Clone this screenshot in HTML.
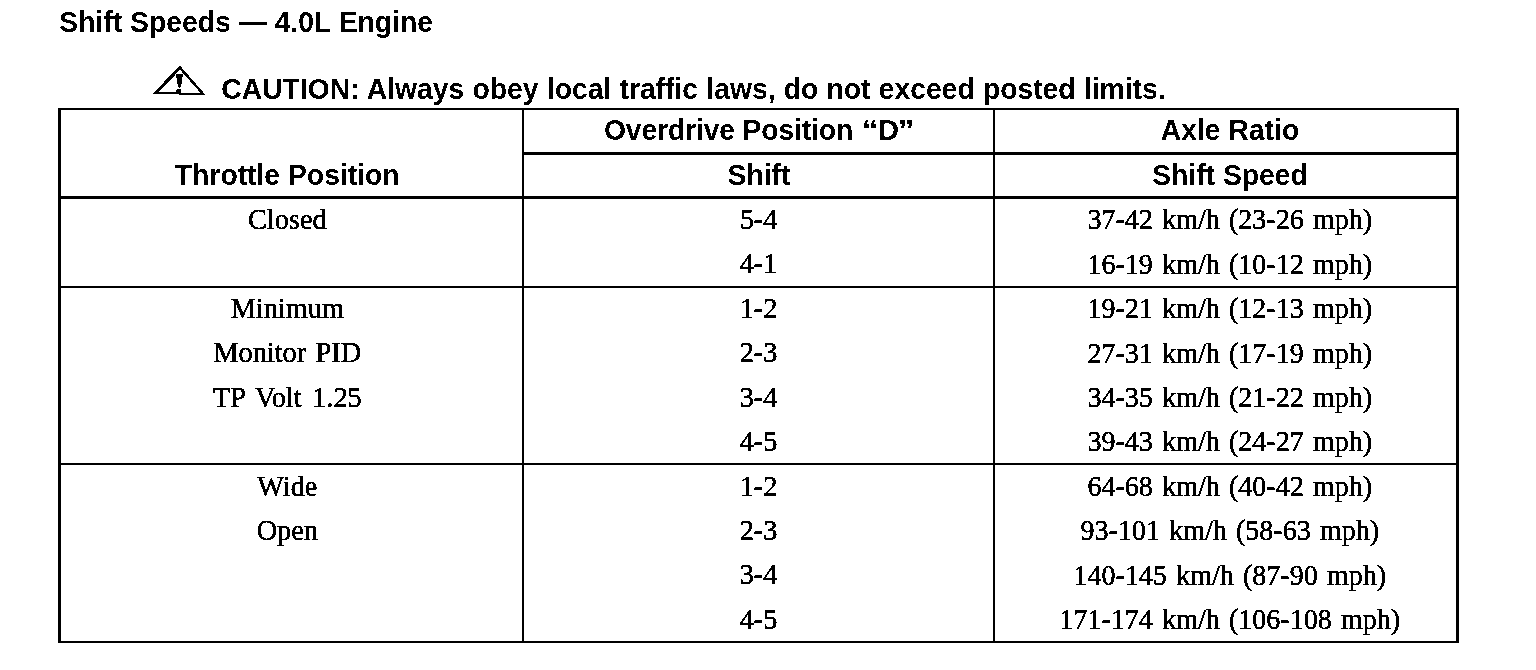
<!DOCTYPE html>
<html><head><meta charset="utf-8"><title>Shift Speeds — 4.0L Engine</title>
<style>
html,body{margin:0;padding:0;background:#fff;}
body{width:1536px;height:670px;position:relative;overflow:hidden;color:#000;}
.t{position:absolute;white-space:nowrap;}
.s{font-family:"Liberation Sans", Arial, Helvetica, sans-serif;font-weight:bold;font-size:28.3px;line-height:28.3px;}
.r{font-family:"Liberation Serif", "Times New Roman", Times, serif;font-weight:normal;font-size:28.3px;line-height:28.3px;-webkit-text-stroke:0.4px #000;}
.c{width:800px;text-align:center;}
.l{position:absolute;background:#000;}
#wrap{position:absolute;left:0;top:0;width:1536px;height:670px;background:#fff;filter:url(#bin);}
</style></head><body>
<svg width="0" height="0" style="position:absolute"><filter id="bin" color-interpolation-filters="sRGB"><feColorMatrix type="saturate" values="0"/><feComponentTransfer><feFuncR type="discrete" tableValues="0 1"/><feFuncG type="discrete" tableValues="0 1"/><feFuncB type="discrete" tableValues="0 1"/></feComponentTransfer></filter></svg>
<div id="wrap">

<div class="l" style="left:58px;top:108px;width:1401px;height:2px"></div>
<div class="l" style="left:522px;top:152px;width:937px;height:3px"></div>
<div class="l" style="left:58px;top:196px;width:1401px;height:3px"></div>
<div class="l" style="left:58px;top:286px;width:1401px;height:2px"></div>
<div class="l" style="left:58px;top:463px;width:1401px;height:2px"></div>
<div class="l" style="left:58px;top:641px;width:1401px;height:2px"></div>
<div class="l" style="left:58px;top:108px;width:3px;height:535px"></div>
<div class="l" style="left:522px;top:108px;width:2px;height:535px"></div>
<div class="l" style="left:993px;top:108px;width:2px;height:535px"></div>
<div class="l" style="left:1456px;top:108px;width:3px;height:535px"></div>
<div class="t s" style="left:59.30px;top:8.04px;transform:scaleY(1.02);transform-origin:0 23.96px;">Shift Speeds — 4.0L Engine</div>
<div class="t s" style="left:221.30px;top:75.04px;transform:scaleY(1.02);transform-origin:0 23.96px;word-spacing:0.35px;">CAUTION: Always obey local traffic laws, do not exceed posted limits.</div>
<div class="t s c" style="left:358.60px;top:116.04px;transform:scaleY(1.02);transform-origin:0 23.96px;"><span style="letter-spacing:-0.13px;margin-right:2.3px">Overdrive Position</span> <span style="display:inline-block;transform:scaleX(1.18);margin-right:1px">“</span>D<span style="display:inline-block;transform:scaleX(1.18);margin-left:0.2px">”</span></div>
<div class="t s c" style="left:830.00px;top:116.04px;transform:scaleY(1.02);transform-origin:0 23.96px;">Axle Ratio</div>
<div class="t s c" style="left:-112.80px;top:161.04px;transform:scaleY(1.02);transform-origin:0 23.96px;">Throttle Position</div>
<div class="t s c" style="left:359.00px;top:161.04px;transform:scaleY(1.02);transform-origin:0 23.96px;">Shift</div>
<div class="t s c" style="left:830.00px;top:161.04px;transform:scaleY(1.02);transform-origin:0 23.96px;">Shift Speed</div>
<div class="t r c" style="left:-112.70px;top:206.00px;transform:scaleY(1.03);transform-origin:0 23.70px;word-spacing:2.3px;">Closed</div>
<div class="t r c" style="left:358.50px;top:206.00px;transform:scaleY(1.03);transform-origin:0 23.70px;">5-4</div>
<div class="t r c" style="left:829.80px;top:206.25px;transform:scaleY(1.03);transform-origin:0 23.45px;word-spacing:2.3px;font-size:28.0px;line-height:28.0px;">37-42 km/h (23-26 mph)</div>
<div class="t r c" style="left:358.50px;top:250.43px;transform:scaleY(1.03);transform-origin:0 23.70px;">4-1</div>
<div class="t r c" style="left:829.80px;top:250.68px;transform:scaleY(1.03);transform-origin:0 23.45px;word-spacing:2.3px;font-size:28.0px;line-height:28.0px;">16-19 km/h (10-12 mph)</div>
<div class="t r c" style="left:-112.70px;top:294.86px;transform:scaleY(1.03);transform-origin:0 23.70px;word-spacing:2.3px;">Minimum</div>
<div class="t r c" style="left:358.50px;top:294.86px;transform:scaleY(1.03);transform-origin:0 23.70px;">1-2</div>
<div class="t r c" style="left:829.80px;top:295.11px;transform:scaleY(1.03);transform-origin:0 23.45px;word-spacing:2.3px;font-size:28.0px;line-height:28.0px;">19-21 km/h (12-13 mph)</div>
<div class="t r c" style="left:-112.70px;top:339.29px;transform:scaleY(1.03);transform-origin:0 23.70px;word-spacing:2.3px;">Monitor PID</div>
<div class="t r c" style="left:358.50px;top:339.29px;transform:scaleY(1.03);transform-origin:0 23.70px;">2-3</div>
<div class="t r c" style="left:829.80px;top:339.54px;transform:scaleY(1.03);transform-origin:0 23.45px;word-spacing:2.3px;font-size:28.0px;line-height:28.0px;">27-31 km/h (17-19 mph)</div>
<div class="t r c" style="left:-112.70px;top:383.72px;transform:scaleY(1.03);transform-origin:0 23.70px;word-spacing:3.5px;">TP Volt 1.25</div>
<div class="t r c" style="left:358.50px;top:383.72px;transform:scaleY(1.03);transform-origin:0 23.70px;">3-4</div>
<div class="t r c" style="left:829.80px;top:383.97px;transform:scaleY(1.03);transform-origin:0 23.45px;word-spacing:2.3px;font-size:28.0px;line-height:28.0px;">34-35 km/h (21-22 mph)</div>
<div class="t r c" style="left:358.50px;top:428.15px;transform:scaleY(1.03);transform-origin:0 23.70px;">4-5</div>
<div class="t r c" style="left:829.80px;top:428.40px;transform:scaleY(1.03);transform-origin:0 23.45px;word-spacing:2.3px;font-size:28.0px;line-height:28.0px;">39-43 km/h (24-27 mph)</div>
<div class="t r c" style="left:-112.70px;top:472.58px;transform:scaleY(1.03);transform-origin:0 23.70px;word-spacing:2.3px;">Wide</div>
<div class="t r c" style="left:358.50px;top:472.58px;transform:scaleY(1.03);transform-origin:0 23.70px;">1-2</div>
<div class="t r c" style="left:829.80px;top:472.83px;transform:scaleY(1.03);transform-origin:0 23.45px;word-spacing:2.3px;font-size:28.0px;line-height:28.0px;">64-68 km/h (40-42 mph)</div>
<div class="t r c" style="left:-112.70px;top:517.01px;transform:scaleY(1.03);transform-origin:0 23.70px;word-spacing:2.3px;">Open</div>
<div class="t r c" style="left:358.50px;top:517.01px;transform:scaleY(1.03);transform-origin:0 23.70px;">2-3</div>
<div class="t r c" style="left:829.80px;top:517.26px;transform:scaleY(1.03);transform-origin:0 23.45px;word-spacing:2.3px;font-size:28.0px;line-height:28.0px;">93-101 km/h (58-63 mph)</div>
<div class="t r c" style="left:358.50px;top:561.44px;transform:scaleY(1.03);transform-origin:0 23.70px;">3-4</div>
<div class="t r c" style="left:829.80px;top:561.69px;transform:scaleY(1.03);transform-origin:0 23.45px;word-spacing:2.3px;font-size:28.0px;line-height:28.0px;">140-145 km/h (87-90 mph)</div>
<div class="t r c" style="left:358.50px;top:605.87px;transform:scaleY(1.03);transform-origin:0 23.70px;">4-5</div>
<div class="t r c" style="left:829.80px;top:606.12px;transform:scaleY(1.03);transform-origin:0 23.45px;word-spacing:2.3px;font-size:28.0px;line-height:28.0px;">171-174 km/h (106-108 mph)</div>
<svg style="position:absolute;left:0;top:0" width="1536" height="670" viewBox="0 0 1536 670">
<path d="M180,65.8 L152.2,94.0 L205.6,95.0 Z M180,69.8 L158.5,92.3 L200.5,92.8 Z" fill="#000" fill-rule="evenodd"/>
<polygon points="176.2,74.2 182.8,74.2 182.3,79 180.8,87.6 178.2,87.6 176.6,79" fill="#000"/>
<rect x="176.3" y="89.3" width="4.7" height="3" fill="#000"/>
</svg>
</div></body></html>
